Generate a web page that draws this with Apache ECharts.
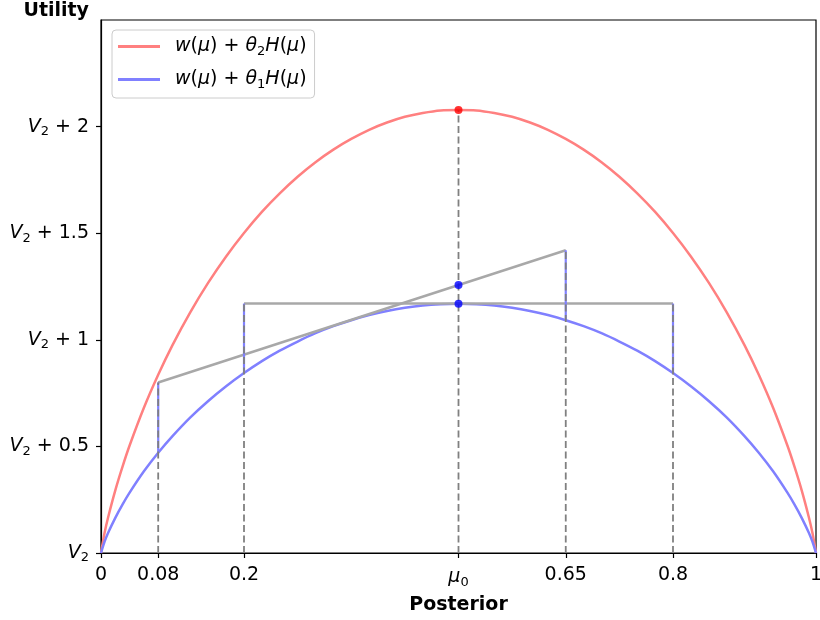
<!DOCTYPE html>
<html>
<head>
<meta charset="utf-8">
<script src="https://cdn.jsdelivr.net/npm/echarts@6/dist/echarts.min.js"></script>
<style>
html,body{margin:0;padding:0;background:#fff;}
#chart{width:820px;height:620px;}
</style>
</head>
<body>
<div id="chart"></div>
<script>
// ---- data ----
const muGrid = [0, 0.005, 0.01, 0.02, 0.03, 0.04, 0.06, 0.08, 0.1, 0.125, 0.15, 0.175, 0.2, 0.225, 0.25, 0.275, 0.3, 0.325, 0.35, 0.375, 0.4, 0.425, 0.45, 0.475, 0.5,
  0.525, 0.55, 0.575, 0.6, 0.625, 0.65, 0.675, 0.7, 0.725, 0.75, 0.775, 0.8, 0.825, 0.85, 0.875, 0.9, 0.92, 0.94, 0.96, 0.97, 0.98, 0.99, 0.995, 1];
const redCurve = [0, 0.095, 0.168, 0.294, 0.404, 0.504, 0.681, 0.836, 0.975, 1.130, 1.268, 1.391, 1.501, 1.600, 1.687, 1.765, 1.833, 1.892, 1.942, 1.985, 2.019, 2.046, 2.064, 2.076, 2.078,
  2.076, 2.064, 2.046, 2.019, 1.985, 1.942, 1.892, 1.833, 1.765, 1.687, 1.600, 1.501, 1.391, 1.268, 1.130, 0.975, 0.836, 0.681, 0.504, 0.404, 0.294, 0.168, 0.095, 0];
const blueCurve = [0, 0.053, 0.095, 0.165, 0.227, 0.283, 0.383, 0.470, 0.548, 0.636, 0.713, 0.782, 0.844, 0.900, 0.949, 0.992, 1.031, 1.064, 1.092, 1.116, 1.135, 1.150, 1.161, 1.167, 1.169,
  1.167, 1.161, 1.150, 1.135, 1.116, 1.092, 1.064, 1.031, 0.992, 0.949, 0.900, 0.844, 0.782, 0.713, 0.636, 0.548, 0.470, 0.383, 0.283, 0.227, 0.165, 0.095, 0.053, 0];

const xTicks = [0, 0.08, 0.2, 0.5, 0.65, 0.8, 1];
const xTickLabels = ['0', '0.08', '0.2', 'mu0', '0.65', '0.8', '1'];
const yTicks = [0, 0.5, 1, 1.5, 2];
const yTickLabels = ['', ' + 0.5', ' + 1', ' + 1.5', ' + 2'];

// chords (concavification lines)
const chordAX = [0.08, 0.65];
const chordAY = [0.80, 1.42];
const chordBX = [0.2, 0.8];
const chordBY = [1.17, 1.17];

// vertical drop positions: bottom on blue curve, top on chord / red peak
const dropX = [0.08, 0.2, 0.5, 0.65, 0.8];
const dropBlue = [0.470, 0.844, 1.169, 1.091, 0.844];
const dropTop = [0.80, 1.17, 2.078, 1.42, 1.17];

const redDotX = [0.5];
const redDotY = [2.078];
const blueDotX = [0.5, 0.5];
const blueDotY = [1.257, 1.169];

// ---- chart ----
const FS = 19;
const SUB = 13;
const pairs = (xs, ys) => xs.map((x, i) => [x, ys[i]]);
const series = [];

series.push({
  name: 'red', type: 'line', data: pairs(muGrid, redCurve), symbol: 'none', smooth: 0.3,
  lineStyle: { color: '#ff8080', width: 2.5 }, itemStyle: { color: '#ff8080' }, z: 2
});
series.push({
  name: 'blue', type: 'line', data: pairs(muGrid, blueCurve), symbol: 'none', smooth: 0.3,
  lineStyle: { color: '#8080ff', width: 2.5 }, itemStyle: { color: '#8080ff' }, z: 2
});
[[chordAX, chordAY], [chordBX, chordBY]].forEach(([xs, ys]) => {
  series.push({
    type: 'line', data: pairs(xs, ys), symbol: 'none',
    lineStyle: { color: '#a8a8a8', width: 2.5 }, z: 3, silent: true
  });
});
// blue vertical segments between curve and chord (except at mu0)
dropX.forEach((x, i) => {
  if (x === 0.5) return;
  series.push({
    type: 'line', data: [[x, dropBlue[i]], [x, dropTop[i]]], symbol: 'none',
    lineStyle: { color: '#8080ff', width: 2.2 }, z: 3, silent: true
  });
});
// dashed verticals from axis to top
dropX.forEach((x, i) => {
  series.push({
    type: 'line', data: [[x, 0], [x, dropTop[i]]], symbol: 'none',
    lineStyle: { color: '#808080', width: 1.8, type: [7, 3.5] }, z: 4, silent: true
  });
});
series.push({
  type: 'scatter', data: pairs(redDotX, redDotY), symbolSize: 8,
  itemStyle: { color: '#ff0000' }, z: 6, silent: true
});
series.push({
  type: 'scatter', data: pairs(blueDotX, blueDotY), symbolSize: 8,
  itemStyle: { color: '#0000ff' }, z: 6, silent: true
});

const richStyles = {
  i: { fontSize: FS, fontStyle: 'italic', fontFamily: 'DejaVu Sans', color: '#000' },
  n: { fontSize: FS, fontFamily: 'DejaVu Sans', color: '#000' },
  s: { fontSize: SUB, fontFamily: 'DejaVu Sans', color: '#000', padding: [10, 0, 0, 0] }
};

const legendText = {
  red: '{i|w}{n|(}{i|μ}{n|) + }{i|θ}{s|2}{i|H}{n|(}{i|μ}{n|)}',
  blue: '{i|w}{n|(}{i|μ}{n|) + }{i|θ}{s|1}{i|H}{n|(}{i|μ}{n|)}'
};

const option = {
  animation: false,
  backgroundColor: '#ffffff',
  textStyle: { fontFamily: 'DejaVu Sans' },
  grid: { left: 101, right: 4, top: 20, bottom: 67, containLabel: false, outerBoundsMode: 'none',
    show: true, borderColor: '#000', borderWidth: 1.2 },
  legend: {
    data: [{ name: 'red', icon: 'rect' }, { name: 'blue', icon: 'rect' }],
    orient: 'vertical', left: 112, top: 30,
    itemWidth: 42, itemHeight: 3, itemGap: 12,
    padding: [7, 8, 7, 6],
    borderColor: '#cccccc', borderWidth: 1, borderRadius: 4, backgroundColor: 'rgba(255,255,255,0.8)',
    formatter: n => legendText[n],
    textStyle: { padding: [0, 0, 0, 10], rich: richStyles }
  },
  xAxis: {
    type: 'value', min: 0, max: 1,
    name: 'Posterior', nameLocation: 'middle', nameGap: 43,
    nameTextStyle: { fontSize: FS, fontWeight: 'bold', color: '#000', fontFamily: 'DejaVu Sans' },
    axisLine: { lineStyle: { color: '#000', width: 1.2 } },
    axisTick: { show: true, customValues: xTicks, length: 5, lineStyle: { color: '#000', width: 1.2 } },
    axisLabel: {
      customValues: xTicks, margin: 13, color: '#000', fontSize: FS,
      formatter: v => {
        const i = xTicks.findIndex(t => Math.abs(t - v) < 1e-9);
        const s = i >= 0 ? xTickLabels[i] : '';
        return s === 'mu0' ? '{i|μ}{s|0}' : '{n|' + s + '}';
      },
      rich: richStyles
    },
    splitLine: { show: false }
  },
  yAxis: {
    type: 'value', min: 0, max: 2.5,
    name: 'Utility', nameLocation: 'end', nameGap: -1,
    nameTextStyle: { fontSize: FS, fontWeight: 'bold', color: '#000', align: 'right', padding: [0, 12, 0, 0], fontFamily: 'DejaVu Sans' },
    axisLine: { show: true, lineStyle: { color: '#000', width: 1.2 } },
    axisTick: { show: true, customValues: yTicks, length: 5, lineStyle: { color: '#000', width: 1.2 } },
    axisLabel: {
      customValues: yTicks, margin: 12, color: '#000', fontSize: FS,
      formatter: v => {
        const i = yTicks.findIndex(t => Math.abs(t - v) < 1e-9);
        return '{i|V}{s|2}{n|' + (i >= 0 ? yTickLabels[i] : '') + '}';
      },
      rich: richStyles
    },
    splitLine: { show: false }
  },
  series: series
};

const chart = echarts.init(document.getElementById('chart'), null, { renderer: 'canvas' });
chart.setOption(option);
</script>
</body>
</html>
